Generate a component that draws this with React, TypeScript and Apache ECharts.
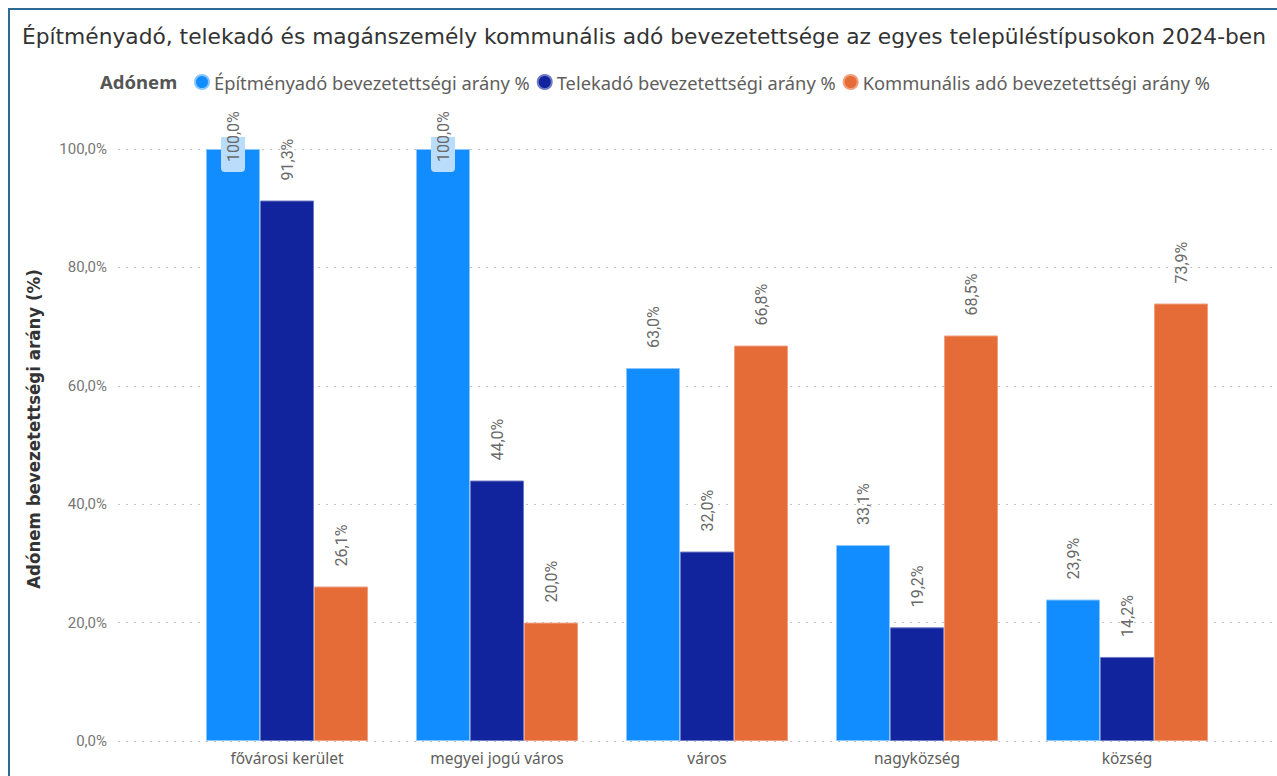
import React, { useEffect, useRef } from "react";
import * as echarts from "echarts";

const categories = ["fővárosi kerület", "megyei jogú város", "város", "nagyközség", "község"];
const seriesNames = [
  "Építményadó bevezetettségi arány %",
  "Telekadó bevezetettségi arány %",
  "Kommunális adó bevezetettségi arány %",
];
const epitmenyado = [100.0, 100.0, 63.0, 33.1, 23.9];
const telekado = [91.3, 44.0, 32.0, 19.2, 14.2];
const kommunalis = [26.1, 20.0, 66.8, 68.5, 73.9];
const yTicks = [0, 20, 40, 60, 80, 100];
const colors = ["#118DFF", "#12239E", "#E66C37"];

const fmt = (v: number) => v.toFixed(1).replace(".", ",") + "%";

export default function App() {
  const ref = useRef<HTMLDivElement>(null);
  useEffect(() => {
    if (!ref.current) return;
    const chart = echarts.init(ref.current, undefined, { renderer: "svg" });
    const labelBase = {
      show: true,
      position: "top",
      rotate: 90,
      align: "left",
      verticalAlign: "middle",
      distance: 20,
      color: "#6A6A6A",
      fontSize: 16,
      fontFamily: "Roboto, 'Noto Sans', sans-serif",
      formatter: (p: any) => fmt(p.value as number),
    };
    const insideBg = new echarts.graphic.LinearGradient(0, 0, 1, 0, [
      { offset: 0, color: "#BADDFC" },
      { offset: 0.5, color: "#BADDFC" },
      { offset: 0.5, color: "rgba(255,255,255,0)" },
      { offset: 1, color: "rgba(255,255,255,0)" },
    ]);
    const mkData = (arr: number[]) =>
      arr.map((v) =>
        v >= 100
          ? {
              value: v,
              label: {
                distance: -23,
                backgroundColor: insideBg,
                borderRadius: 4,
                padding: [4, 10, 4, 10],
              },
            }
          : v
      );
    const mkSeries = (name: string, arr: number[], color: string, border: string) => ({
      name,
      type: "bar",
      xAxisIndex: 0,
      yAxisIndex: 0,
      data: mkData(arr),
      barWidth: 54,
      barGap: "0%",
      itemStyle: { color, borderColor: border, borderWidth: 1 },
      label: labelBase,
    });
    chart.setOption({
      animation: false,
      backgroundColor: "#ffffff",
      textStyle: { fontFamily: "Roboto, 'Noto Sans', sans-serif" },
      title: {
        text: "Építményadó, telekadó és magánszemély kommunális adó bevezetettsége az egyes településtípusokon 2024-ben",
        left: 17,
        top: 20,
        textStyle: {
          fontFamily: "'DejaVu Sans', sans-serif",
          fontSize: 21.75,
          fontWeight: "normal",
          color: "#333333",
        },
      },
      legend: {
        left: 189,
        top: 68,
        itemWidth: 14,
        itemHeight: 14,
        itemGap: 7,
        icon: "circle",
        data: seriesNames,
        textStyle: {
          fontFamily: "'Noto Sans', sans-serif",
          fontSize: 18.3,
          color: "#605E5C",
        },
      },
      graphic: [
        {
          type: "text",
          x: 100,
          y: 81,
          style: {
            text: "Adónem",
            fontFamily: "'Noto Sans', sans-serif",
            fontSize: 18.5,
            fontWeight: "bold",
            fill: "#555555",
            verticalAlign: "middle",
          },
        },
        {
          type: "text",
          x: 33,
          y: 429,
          rotation: Math.PI / 2,
          style: {
            text: "Adónem bevezetettségi arány (%)",
            fontFamily: "'DejaVu Sans Condensed', 'DejaVu Sans', sans-serif",
            fontSize: 18.5,
            fontWeight: "bold",
            fill: "#333333",
            align: "center",
            verticalAlign: "middle",
          },
        },
      ],
      grid: [
        { left: 182, width: 1050, top: 149, height: 592 },
        { left: 118, right: 0, top: 149, height: 592 },
      ],
      xAxis: [
        {
          type: "category",
          gridIndex: 0,
          data: categories,
          axisLine: { show: false },
          axisTick: { show: false },
          axisLabel: {
            color: "#605E5C",
            fontSize: 15.5,
            margin: 9,
            fontFamily: "'Noto Sans', sans-serif",
          },
        },
        {
          type: "category",
          gridIndex: 1,
          data: categories,
          show: false,
        },
      ],
      yAxis: [
        {
          type: "value",
          gridIndex: 0,
          min: 0,
          max: 100,
          interval: 20,
          show: false,
          splitLine: { show: false },
        },
        {
          type: "value",
          gridIndex: 1,
          min: yTicks[0],
          max: yTicks[yTicks.length - 1],
          interval: 20,
          axisLine: { show: false },
          axisTick: { show: false },
          axisLabel: {
            color: "#777777",
            fontSize: 15,
            margin: 11,
            fontFamily: "Roboto, sans-serif",
            formatter: (v: number) => fmt(v),
          },
          splitLine: {
            show: true,
            lineStyle: { color: "#C4C4C4", type: [2, 6], width: 1 },
          },
        },
      ],
      series: [
        mkSeries(seriesNames[0], epitmenyado, colors[0], "#8CC6FF"),
        mkSeries(seriesNames[1], telekado, colors[1], "#6E79C4"),
        mkSeries(seriesNames[2], kommunalis, colors[2], "#F0A080"),
      ],
    });
    return () => chart.dispose();
  }, []);
  return (
    <>
      <div
        style={{
          position: "fixed",
          left: 0,
          top: 0,
          width: 1277,
          height: 776,
        }}
        ref={ref}
      />
      <div
        style={{
          position: "fixed",
          left: 8,
          top: 8,
          width: 1300,
          height: 800,
          borderTop: "2px solid #2B6B95",
          borderLeft: "2px solid #2B6B95",
          pointerEvents: "none",
        }}
      />
    </>
  );
}
